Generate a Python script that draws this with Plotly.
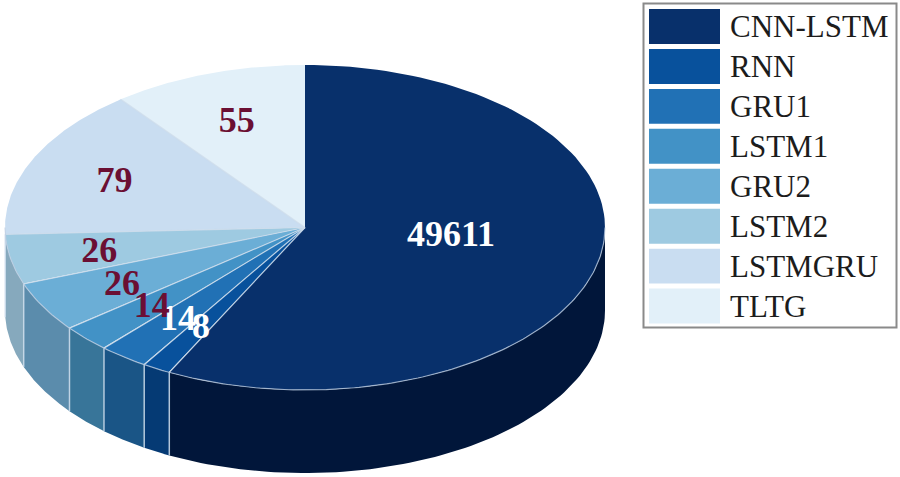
import numpy as np
import plotly.graph_objects as go

# Data
categories = ["CNN-LSTM", "RNN", "GRU1", "LSTM1", "GRU2", "LSTM2", "LSTMGRU", "TLTG"]
printed_values = [49611, 8, 14, 14, 26, 26, 79, 55]
# the drawing does not give the first slice its true share: this is the weight it is drawn with
drawn_weights = [300, 8, 14, 14, 26, 26, 79, 55]
top_colors = ["#08306b", "#08519c", "#2171b5", "#4292c6", "#6baed6", "#9ecae1", "#c9ddf1", "#e2f0f9"]
wall_colors = ["#01163a", "#053a74", "#1a5586", "#387599", "#5b8cac", "#86a9bd", "#c9ddf1", "#e2f0f9"]
label_colors = ["white", "white", "white", "#6b0f33", "#6b0f33", "#6b0f33", "#6b0f33", "#6b0f33"]

# Pie geometry in image pixels
CX, CY, RX, RY, DEPTH = 305.0, 227.5, 300.0, 162.5, 83.0
W, H = 900, 477
LINE = "rgba(205,220,235,0.85)"
SERIF = "Liberation Serif"


def rim(t):
    t = np.radians(t)
    return CX + RX * np.sin(t), CY - RY * np.cos(t)


w = np.array(drawn_weights, dtype=float)
edges = np.concatenate([[0.0], np.cumsum(w) / w.sum() * 360.0])

fig = go.Figure()

# side wall (only the front half of the pie shows one)
for i, c in enumerate(categories):
    a, b = max(edges[i], 90.0), min(edges[i + 1], 270.0)
    if a >= b:
        continue
    t = np.linspace(a, b, 90)
    x, y = rim(t)
    fig.add_trace(go.Scatter(
        x=np.concatenate([x, x[::-1], x[:1]]),
        y=np.concatenate([y, y[::-1] + DEPTH, y[:1]]),
        mode="lines", fill="toself", fillcolor=wall_colors[i],
        line=dict(width=0), hoverinfo="skip", showlegend=False))

# top face
for i, c in enumerate(categories):
    t = np.linspace(edges[i], edges[i + 1], 120)
    x, y = rim(t)
    fig.add_trace(go.Scatter(
        x=np.concatenate([[CX], x, [CX]]), y=np.concatenate([[CY], y, [CY]]),
        mode="lines", fill="toself", fillcolor=top_colors[i],
        line=dict(width=0), name=c, hoverinfo="name", showlegend=False))

# slice separators and the front rim
for e in edges[1:-1]:
    x, y = rim(e)
    fig.add_trace(go.Scatter(x=[CX, x], y=[CY, y], mode="lines",
                             line=dict(color=LINE, width=1.2), hoverinfo="skip", showlegend=False))
    if 90 < e < 270:
        fig.add_trace(go.Scatter(x=[x, x], y=[y, y + DEPTH], mode="lines",
                                 line=dict(color=LINE, width=1.5), hoverinfo="skip", showlegend=False))
t = np.linspace(90, 270, 200)
x, y = rim(t)
fig.add_trace(go.Scatter(x=x, y=y, mode="lines", line=dict(color="rgba(190,205,225,0.75)", width=1.2),
                         hoverinfo="skip", showlegend=False))

# value labels
mids = (edges[:-1] + edges[1:]) / 2
frac = np.array([0.5] + [0.7] * 7)
lx = CX + RX * frac * np.sin(np.radians(mids))
ly = CY - RY * frac * np.cos(np.radians(mids)) + 3
ly[0] -= 12
fig.add_trace(go.Scatter(x=lx, y=ly, mode="text", text=[str(v) for v in printed_values],
                         textposition="middle center",
                         textfont=dict(family=SERIF, size=36, color=label_colors, weight="bold"),
                         hoverinfo="skip", showlegend=False))

# legend panel
shapes = [dict(type="rect", xref="x", yref="y", x0=643.5, x1=896.5, y0=3.5, y1=327.5,
               line=dict(color="#8a8a8a", width=2), fillcolor="white", layer="below")]
annotations = []
row_h = (324 - 9 + 4.5) / len(categories)
for i, c in enumerate(categories):
    y0 = 9 + i * row_h
    shapes.append(dict(type="rect", xref="x", yref="y", x0=649, x1=720, y0=y0, y1=y0 + row_h - 5,
                       line=dict(width=0), fillcolor=top_colors[i], layer="below"))
    annotations.append(dict(x=728, y=y0 + (row_h - 5) / 2 + 0.5, xref="x", yref="y", text=c, showarrow=False,
                            xanchor="left", yanchor="middle",
                            font=dict(family=SERIF, size=31, color="#1c1c1c")))

fig.update_layout(
    width=W, height=H, margin=dict(l=0, r=0, t=0, b=0),
    paper_bgcolor="white", plot_bgcolor="white", showlegend=False,
    xaxis=dict(range=[0, W], visible=False, fixedrange=True),
    yaxis=dict(range=[H, 0], visible=False, fixedrange=True),
    shapes=shapes, annotations=annotations)

fig.write_html("out.html", config={"displayModeBar": False},
               post_script="document.documentElement.style.overflow='hidden';document.body.style.margin='0';")
